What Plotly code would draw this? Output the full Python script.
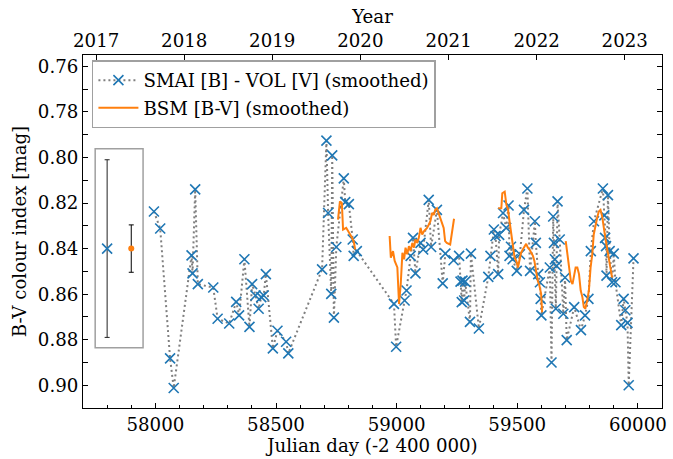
import plotly.graph_objects as go
from datetime import datetime

# SMAI [B] - VOL [V] colour index (smoothed), Julian day - 2 400 000
jd_smai = [57994, 58020, 58061, 58076, 58150, 58154, 58165, 58176, 58240, 58258,
           58306, 58335, 58347, 58369, 58390, 58401, 58415, 58428, 58439, 58449,
           58458, 58487, 58506, 58542, 58551, 58691, 58709, 58716, 58729, 58733,
           58740, 58750, 58781, 58787, 58802, 58818, 58822, 58835, 58989, 58998,
           59033, 59041, 59058, 59068, 59078, 59099, 59110, 59133, 59143, 59167,
           59191, 59202, 59236, 59259, 59265, 59270, 59273, 59280, 59284, 59304,
           59308, 59341, 59380, 59389, 59403, 59410, 59421, 59425, 59441, 59454,
           59464, 59468, 59474, 59481, 59498, 59511, 59528, 59542, 59553, 59573,
           59577, 59587, 59594, 59597, 59600, 59635, 59642, 59649, 59652, 59656,
           59660, 59663, 59667, 59676, 59691, 59698, 59705, 59736, 59764, 59781,
           59795, 59805, 59818, 59855, 59861, 59864, 59868, 59870, 59876, 59883,
           59893, 59900, 59907, 59931, 59941, 59948, 59957, 59962, 59982]
bv_smai = [0.8237, 0.8312, 0.8882, 0.9012, 0.8430, 0.8509, 0.8140, 0.8556, 0.8571, 0.8708,
           0.8729, 0.8634, 0.8693, 0.8447, 0.8744, 0.8556, 0.8606, 0.8664, 0.8613, 0.8606,
           0.8512, 0.8838, 0.8761, 0.8809, 0.8860, 0.8491, 0.7926, 0.8244, 0.8599, 0.7991,
           0.8703, 0.8393, 0.8092, 0.8196, 0.8205, 0.8360, 0.8432, 0.8411, 0.8643, 0.8831,
           0.8628, 0.8584, 0.8432, 0.8353, 0.8509, 0.8375, 0.8404, 0.8186, 0.8393, 0.8230,
           0.8553, 0.8422, 0.8451, 0.8432, 0.8545, 0.8635, 0.8541, 0.8628, 0.8545, 0.8722,
           0.8422, 0.8751, 0.8524, 0.8432, 0.8316, 0.8345, 0.8512, 0.8340, 0.8244, 0.8309,
           0.8211, 0.8432, 0.8392, 0.8447, 0.8498, 0.8425, 0.8230, 0.8136, 0.8498, 0.8280,
           0.8375, 0.8512, 0.8548, 0.8621, 0.8693, 0.8483, 0.8900, 0.8259, 0.8375, 0.8447,
           0.8664, 0.8476, 0.8193, 0.8360, 0.8686, 0.8527, 0.8802, 0.8657, 0.8758, 0.8693,
           0.8621, 0.8411, 0.8280, 0.8136, 0.8254, 0.8353, 0.8389, 0.8519, 0.8165, 0.8411,
           0.8548, 0.8422, 0.8548, 0.8736, 0.8621, 0.8671, 0.8726, 0.9000, 0.8443]

# BSM [B-V] (smoothed), one list per observing season
jd_bsm_1 = [58757, 58765, 58773, 58778, 58791, 58798, 58811, 58822, 58828]
bv_bsm_1 = [0.8273, 0.8193, 0.8201, 0.8317, 0.8309, 0.8324, 0.8345, 0.8367, 0.8404]

jd_bsm_2 = [58971, 58976, 58985, 58992, 59003, 59010, 59017, 59024, 59031, 59037,
            59044, 59051, 59058, 59065, 59072, 59078, 59085, 59092, 59099, 59106,
            59113, 59126, 59133, 59140, 59147, 59154, 59160, 59167, 59174, 59181,
            59188, 59195, 59201, 59208, 59222, 59229, 59238]
bv_bsm_2 = [0.8345, 0.8440, 0.8411, 0.8454, 0.8483, 0.8643, 0.8556, 0.8418, 0.8447, 0.8396,
            0.8425, 0.8389, 0.8411, 0.8375, 0.8396, 0.8360, 0.8375, 0.8353, 0.8309, 0.8338,
            0.8324, 0.8309, 0.8295, 0.8280, 0.8244, 0.8252, 0.8230, 0.8223, 0.8244, 0.8266,
            0.8280, 0.8309, 0.8367, 0.8375, 0.8382, 0.8324, 0.8269]

jd_bsm_3 = [59421, 59434, 59438, 59448, 59455, 59462, 59468, 59475, 59482, 59489,
            59496, 59503, 59510, 59516, 59523, 59530, 59537, 59544, 59551, 59558,
            59565, 59571, 59578, 59585, 59592, 59599, 59603]
bv_bsm_3 = [0.8223, 0.8223, 0.8157, 0.8150, 0.8208, 0.8230, 0.8280, 0.8338, 0.8396, 0.8440,
            0.8454, 0.8483, 0.8447, 0.8418, 0.8404, 0.8389, 0.8379, 0.8396, 0.8404, 0.8418,
            0.8432, 0.8454, 0.8498, 0.8541, 0.8563, 0.8599, 0.8679]

jd_bsm_4 = [59701, 59708, 59715, 59722, 59729, 59735, 59742, 59749, 59756, 59763,
            59770, 59776, 59782, 59790, 59797, 59804, 59811, 59817, 59824, 59831,
            59838, 59845, 59852, 59858, 59865, 59872, 59879, 59886, 59893]
bv_bsm_4 = [0.8367, 0.8432, 0.8498, 0.8541, 0.8556, 0.8512, 0.8483, 0.8483, 0.8512, 0.8584,
            0.8613, 0.8657, 0.8664, 0.8628, 0.8584, 0.8483, 0.8425, 0.8338, 0.8295, 0.8266,
            0.8237, 0.8230, 0.8259, 0.8309, 0.8353, 0.8396, 0.8440, 0.8483, 0.8527]

# typical uncertainties shown in the inset box
err_center = 0.84
err_smai = 0.039
err_bsm = 0.0104
err_x_smai = 57800
err_x_bsm = 57900

years = [2017, 2018, 2019, 2020, 2021, 2022, 2023]

x_range = [57700, 60100]
y_range = [0.91, 0.755]

BLUE = "#1f77b4"
ORANGE = "#ff7f0e"
GRAY = "#7f7f7f"
FONT = "DejaVu Serif, Liberation Serif, serif"
FS = 18.2


def year_to_jd(y):
    # JD - 2 400 000 at 1 January 00:00 UT (MJD + 0.5)
    return (datetime(y, 1, 1) - datetime(1858, 11, 17)).days + 0.5


def join_segments(*segs):
    out = []
    for i, s in enumerate(segs):
        if i:
            out.append(None)
        out.extend(s)
    return out


fig = go.Figure()

fig.add_trace(go.Scatter(
    x=jd_smai, y=bv_smai, mode="lines+markers",
    name="SMAI [B] - VOL [V] (smoothed)", legendgroup="a",
    line=dict(color=GRAY, width=2, dash="2px,3px"),
    marker=dict(symbol="x-thin", size=10, color=BLUE, line=dict(width=1.6, color=BLUE)),
))

fig.add_trace(go.Scatter(
    x=join_segments(jd_bsm_1, jd_bsm_2, jd_bsm_3, jd_bsm_4),
    y=join_segments(bv_bsm_1, bv_bsm_2, bv_bsm_3, bv_bsm_4),
    mode="lines", name="BSM [B-V] (smoothed)", legendgroup="b",
    line=dict(color=ORANGE, width=2),
))

# error bars in the inset box
fig.add_trace(go.Scatter(
    x=[err_x_smai], y=[err_center], mode="markers", showlegend=False,
    marker=dict(symbol="x-thin", size=10, color=BLUE, line=dict(width=1.6, color=BLUE)),
    error_y=dict(type="data", array=[err_smai], color="#222222", thickness=1, width=2.5),
))
fig.add_trace(go.Scatter(
    x=[err_x_bsm], y=[err_center], mode="markers", showlegend=False,
    marker=dict(symbol="circle", size=6, color=ORANGE),
    error_y=dict(type="data", array=[err_bsm], color="#000000", thickness=1, width=2.5),
))

# invisible trace so the top (year) axis is laid out
fig.add_trace(go.Scatter(x=x_range, y=[None, None], xaxis="x2", showlegend=False,
                         mode="lines", hoverinfo="skip"))

fig.add_shape(type="rect", xref="x", yref="y",
              x0=57750.5, x1=57949, y0=0.7962, y1=0.8835,
              line=dict(color="#a0a0a0", width=1.5), fillcolor="rgba(0,0,0,0)")

axis_common = dict(
    showline=True, linecolor="black", linewidth=1, showgrid=False, zeroline=False,
    ticks="inside", ticklen=5, tickwidth=1, tickcolor="black",
    tickfont=dict(family=FONT, size=FS, color="black"),
)

fig.update_layout(
    width=673, height=459,
    margin=dict(l=83, r=6, t=55, b=47),
    plot_bgcolor="white", paper_bgcolor="white",
    font=dict(family=FONT, size=FS, color="black"),
    showlegend=True,
    legend=dict(x=0.0154, y=0.985, xanchor="left", yanchor="top",
                bordercolor="#a0a0a0", borderwidth=1.5, bgcolor="white",
                font=dict(family=FONT, size=FS, color="black"),
                tracegroupgap=1, itemwidth=40),
    xaxis=dict(range=x_range, tick0=58000, dtick=500, mirror=False, tickformat="d",
               minor=dict(ticks="inside", dtick=100, tick0=58000, ticklen=3, tickcolor="black"),
               title=dict(text="Julian day (-2 400 000)", font=dict(family=FONT, size=FS), standoff=5),
               **axis_common),
    xaxis2=dict(range=x_range, overlaying="x", side="top", anchor="y",
                tickmode="array", tickvals=[year_to_jd(y) for y in years],
                ticktext=[str(y) for y in years],
                title=dict(text="Year", font=dict(family=FONT, size=FS), standoff=1),
                **axis_common),
    yaxis=dict(range=y_range, tick0=0.76, dtick=0.02, tickformat=".2f", mirror="allticks",
               minor=dict(ticks="inside", dtick=0.01, tick0=0.76, ticklen=3, tickcolor="black"),
               title=dict(text="B-V colour index [mag]", font=dict(family=FONT, size=FS), standoff=6),
               **axis_common),
)

fig.write_html("out.html")
